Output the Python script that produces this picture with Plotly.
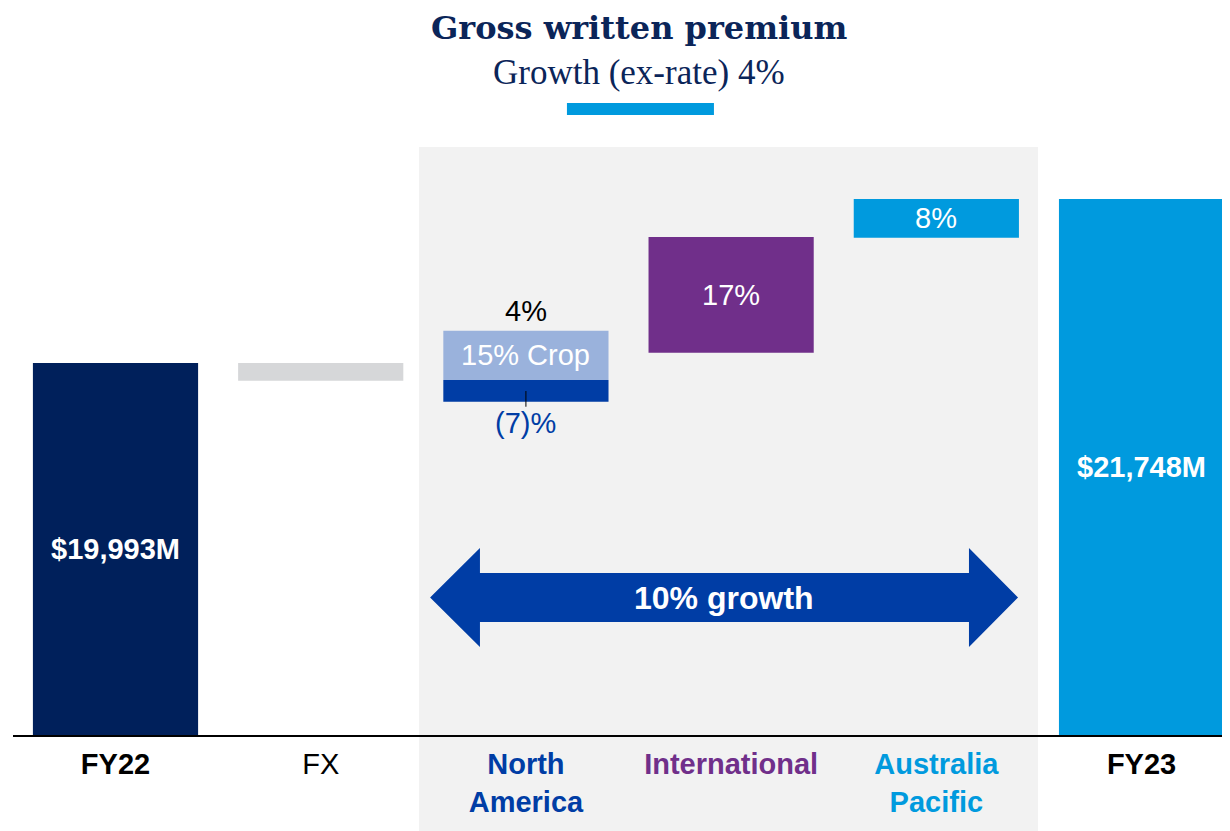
import plotly.graph_objects as go

# ---------------- data ----------------
categories = ["FY22", "FX", "North America", "International", "Australia Pacific", "FY23"]
tick_labels = [
    "<b>FY22</b>",
    "FX",
    "<b><span style='color:#003DA5'>North<br>America</span></b>",
    "<b><span style='color:#702F8A'>International</span></b>",
    "<b><span style='color:#009ADE'>Australia<br>Pacific</span></b>",
    "<b>FY23</b>",
]

axis_floor = 16012          # $M where the drawn bars start
fy22_total = 19993          # $M
fy23_total = 21748          # $M

# floating segments: category index, base ($M), change ($M)
seg_names = ["FX", "NA ex-crop", "NA crop", "International", "Australia Pacific"]
seg_x = [1, 2, 2, 3, 4]
seg_base = [19993, 19811, 19811, 20103, 21334]
seg_delta = [-190, -232, 527, 1238, 414]
seg_colors = ["#D6D7D9", "#003DA5", "#9AB2DC", "#702F8A", "#009ADE"]

seg_labels = ["", "", "15% Crop", "17%", "8%"]

total_x = [0, 5]
total_vals = [fy22_total, fy23_total]
total_labels = ["$19,993M", "$21,748M"]
total_colors = ["#00205B", "#009ADE"]

FONT = "Liberation Sans, Arial, sans-serif"
BAR_W = 0.805
LBL = 29

fig = go.Figure()

fig.add_trace(go.Bar(
    x=total_x, y=[v - axis_floor for v in total_vals], base=[axis_floor] * 2,
    marker=dict(color=total_colors, line=dict(width=0)), width=BAR_W,
    hoverinfo="skip", showlegend=False,
))
fig.add_trace(go.Bar(
    x=seg_x, y=seg_delta, base=seg_base,
    marker=dict(color=seg_colors, line=dict(width=0)), width=BAR_W,
    hoverinfo="skip", showlegend=False,
))

annotations = []
# totals labels
for xi, v, t in zip(total_x, total_vals, total_labels):
    annotations.append(dict(x=xi, y=(axis_floor + v) / 2, text=f"<b>{t}</b>", showarrow=False,
                            font=dict(family=FONT, size=LBL, color="white"),
                            xref="x", yref="y"))
# segment labels
for xi, b, d, t in zip(seg_x, seg_base, seg_delta, seg_labels):
    if t:
        annotations.append(dict(x=xi, y=b + d / 2, text=t, showarrow=False,
                                font=dict(family=FONT, size=LBL, color="white"),
                                xref="x", yref="y"))
# North America net and ex-crop labels
annotations.append(dict(x=2, y=20549, text="4%", showarrow=False,
                        font=dict(family=FONT, size=LBL, color="black"), xref="x", yref="y"))
annotations.append(dict(x=2, y=19351, text="(7)%", showarrow=False,
                        font=dict(family=FONT, size=LBL, color="#003DA5"), xref="x", yref="y"))
# arrow label
annotations.append(dict(x=2.966, y=17483, text="<b>10% growth</b>", showarrow=False,
                        font=dict(family=FONT, size=32, color="white"), xref="x", yref="y"))
# titles
annotations.append(dict(x=0.5110, y=1.2024, xref="paper", yref="paper", yanchor="middle",
                        text="<b>Gross written premium</b>", showarrow=False,
                        font=dict(family="DejaVu Serif, serif", size=32, color="#0B2559")))
annotations.append(dict(x=0.5114, y=1.1259, xref="paper", yref="paper", yanchor="middle",
                        text="Growth (ex-rate) 4%", showarrow=False,
                        font=dict(family="Liberation Serif, serif", size=35, color="#0B2559")))

shapes = [
    # shaded panel behind regional segments
    dict(type="rect", xref="paper", yref="paper", x0=0.3314, x1=0.8367, y0=-0.18, y1=1.0,
         fillcolor="#F2F2F2", line=dict(width=0), layer="below"),
    # title underline
    dict(type="rect", xref="paper", yref="paper", x0=0.4522, x1=0.5722, y0=1.0544, y1=1.0748,
         fillcolor="#009ADE", line=dict(width=0)),
    # small tick on NA bar
    dict(type="line", xref="x", yref="y", x0=2, x1=2, y0=19693, y1=19525,
         line=dict(color="black", width=1)),
    # double-headed arrow
    dict(type="path", xref="x", yref="y",
         path=("M 1.533 17483 L 1.776 18013 L 1.776 17746 L 4.159 17746 L 4.159 18013 "
               "L 4.398 17483 L 4.159 16954 L 4.159 17221 L 1.776 17221 L 1.776 16954 Z"),
         fillcolor="#003DA5", line=dict(width=0)),
]

fig.update_layout(
    width=1230, height=831,
    margin=dict(l=5, r=0, t=139, b=104),
    paper_bgcolor="white", plot_bgcolor="rgba(0,0,0,0)",
    barmode="overlay",
    annotations=annotations, shapes=shapes,
    showlegend=False,
    xaxis=dict(range=[-0.4995, 5.470], tickmode="array", tickvals=list(range(6)),
               ticktext=tick_labels, showgrid=False, zeroline=False,
               showline=True, linecolor="black", linewidth=2, ticks="",
               ticklabelstandoff=2,
               tickfont=dict(family=FONT, size=LBL, color="black"), fixedrange=True),
    yaxis=dict(range=[axis_floor, axis_floor + 588 / 0.093447], visible=False,
               showgrid=False, zeroline=False, fixedrange=True),
)

fig.write_html("out.html")
